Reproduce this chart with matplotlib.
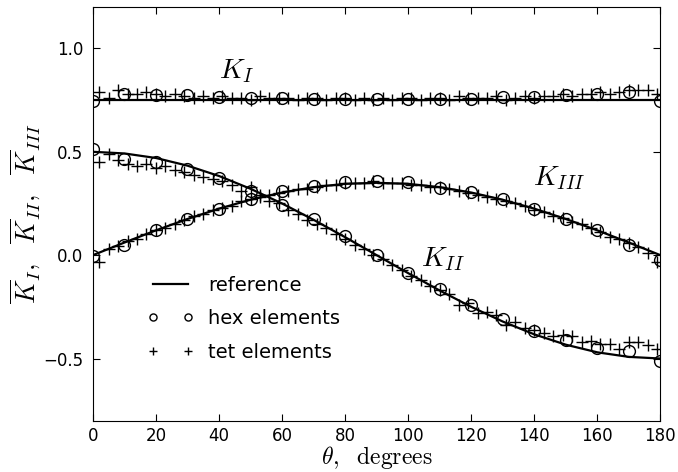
import matplotlib
matplotlib.use('Agg')
import matplotlib.pyplot as plt
import numpy as np

plt.rcParams['mathtext.fontset'] = 'cm'
plt.rcParams['font.family'] = ['DejaVu Sans']

# reference solution
theta_ref = [0, 10, 20, 30, 40, 50, 60, 70, 80, 90, 100, 110, 120, 130, 140, 150, 160, 170, 180]
KI_ref = [0.75, 0.75, 0.75, 0.75, 0.75, 0.75, 0.75, 0.75, 0.75, 0.75, 0.75, 0.75, 0.75, 0.75, 0.75, 0.75, 0.75, 0.75, 0.75]
KII_ref = [0.50, 0.492, 0.47, 0.433, 0.383, 0.321, 0.25, 0.171, 0.087, 0.0, -0.087, -0.171, -0.25, -0.321, -0.383, -0.433, -0.47, -0.492, -0.50]
KIII_ref = [0.0, 0.061, 0.12, 0.175, 0.225, 0.268, 0.303, 0.329, 0.345, 0.35, 0.345, 0.329, 0.303, 0.268, 0.225, 0.175, 0.12, 0.061, 0.0]

# hex elements
theta_hex = [0, 10, 20, 30, 40, 50, 60, 70, 80, 90, 100, 110, 120, 130, 140, 150, 160, 170, 180]
KI_hex = [0.748, 0.78, 0.777, 0.773, 0.765, 0.762, 0.758, 0.755, 0.755, 0.755, 0.757, 0.756, 0.757, 0.765, 0.765, 0.773, 0.78, 0.79, 0.748]
KII_hex = [0.515, 0.463, 0.45, 0.415, 0.371, 0.31, 0.245, 0.173, 0.092, 0.003, -0.085, -0.166, -0.239, -0.308, -0.368, -0.411, -0.448, -0.464, -0.513]
KIII_hex = [-0.005, 0.047, 0.121, 0.176, 0.224, 0.27, 0.31, 0.334, 0.352, 0.358, 0.352, 0.326, 0.305, 0.27, 0.224, 0.176, 0.121, 0.047, -0.021]

# tet elements
theta_tet = [2, 5, 8, 11, 14, 17, 20, 23, 26, 29, 32, 35, 38, 41, 44, 47, 50, 53, 56, 59,
             62, 65, 68, 71, 74, 77, 80, 83, 86, 89, 92, 95, 98, 101, 104, 107, 110, 113, 116, 119,
             122, 125, 128, 131, 134, 137, 140, 143, 146, 149, 152, 155, 158, 161, 164, 167, 170, 173, 176, 179]
KI_tet = [0.79, 0.76, 0.80, 0.78, 0.78, 0.79, 0.78, 0.77, 0.78, 0.77, 0.76, 0.77, 0.76, 0.77, 0.76, 0.76, 0.75, 0.77, 0.76, 0.76,
          0.76, 0.75, 0.76, 0.76, 0.75, 0.76, 0.76, 0.75, 0.76, 0.75, 0.76, 0.75, 0.76, 0.76, 0.75, 0.76, 0.76, 0.75, 0.77, 0.76,
          0.76, 0.76, 0.77, 0.75, 0.76, 0.77, 0.76, 0.77, 0.77, 0.78, 0.77, 0.78, 0.78, 0.79, 0.78, 0.79, 0.80, 0.80, 0.80, 0.78]
KII_tet = [0.45, 0.49, 0.46, 0.44, 0.43, 0.44, 0.42, 0.43, 0.41, 0.40, 0.39, 0.38, 0.37, 0.36, 0.34, 0.31, 0.33, 0.29, 0.26, 0.25,
           0.22, 0.20, 0.17, 0.15, 0.13, 0.10, 0.08, 0.05, 0.03, 0.00, -0.02, -0.05, -0.07, -0.10, -0.12, -0.15, -0.17, -0.19, -0.24, -0.23,
           -0.28, -0.275, -0.29, -0.34, -0.325, -0.35, -0.36, -0.375, -0.39, -0.385, -0.39, -0.42, -0.415, -0.43, -0.43, -0.455, -0.42, -0.42, -0.435, -0.455]
KIII_tet = [-0.035, 0.028, 0.044, 0.07, 0.076, 0.10, 0.12, 0.13, 0.15, 0.17, 0.19, 0.20, 0.22, 0.23, 0.24, 0.26, 0.27, 0.28, 0.29, 0.30,
            0.31, 0.32, 0.32, 0.33, 0.34, 0.34, 0.35, 0.35, 0.35, 0.36, 0.35, 0.35, 0.35, 0.34, 0.34, 0.33, 0.33, 0.32, 0.31, 0.30,
            0.29, 0.28, 0.27, 0.26, 0.25, 0.24, 0.22, 0.21, 0.19, 0.18, 0.16, 0.15, 0.13, 0.11, 0.09, 0.08, 0.06, 0.04, 0.01, -0.035]

fig = plt.figure(figsize=(6.78, 4.72), dpi=100)
ax = fig.add_axes([0.137, 0.109, 0.837, 0.876])

lw = 1.6
ax.plot(theta_ref, KI_ref, 'k-', lw=lw, label='reference')
ax.plot(theta_ref, KII_ref, 'k-', lw=lw)
ax.plot(theta_ref, KIII_ref, 'k-', lw=lw)

ms = 8.5
mk = dict(linestyle='none', marker='o', mfc='none', mec='k', ms=ms, mew=1.0)
ax.plot(theta_hex, KI_hex, label='hex elements', **mk)
ax.plot(theta_hex, KII_hex, **mk)
ax.plot(theta_hex, KIII_hex, **mk)

pk = dict(linestyle='none', marker='+', color='k', ms=ms, mew=1.0)
ax.plot(theta_tet, KI_tet, label='tet elements', **pk)
ax.plot(theta_tet, KII_tet, **pk)
ax.plot(theta_tet, KIII_tet, **pk)

ax.text(45.5, 0.89, r'$K_I$', fontsize=20, ha='center', va='center')
ax.text(148, 0.375, r'$K_{III}$', fontsize=20, ha='center', va='center')
ax.text(111, -0.02, r'$K_{II}$', fontsize=20, ha='center', va='center')

ax.set_xlim(0, 180)
ax.set_ylim(-0.8, 1.2)
ax.set_xticks(np.arange(0, 181, 20))
ax.set_yticks([-0.5, 0.0, 0.5, 1.0])
ax.tick_params(direction='in', top=True, right=True, labelsize=12, length=5, pad=7)
ax.tick_params(axis='x', pad=5)

ax.set_xlabel(r'$\theta,\ \ \mathrm{degrees}$', fontsize=17, labelpad=-1)
ax.set_ylabel(r'$\overline{K}_I,\ \ \overline{K}_{II},\ \ \overline{K}_{III}$', fontsize=19, labelpad=0)

ax.legend(loc='lower left', bbox_to_anchor=(0.064, 0.10), frameon=False, numpoints=2, markerscale=0.6,
          fontsize=14, handlelength=2.4, handletextpad=0.75, labelspacing=0.75)

fig.savefig('out.png', dpi=100)
